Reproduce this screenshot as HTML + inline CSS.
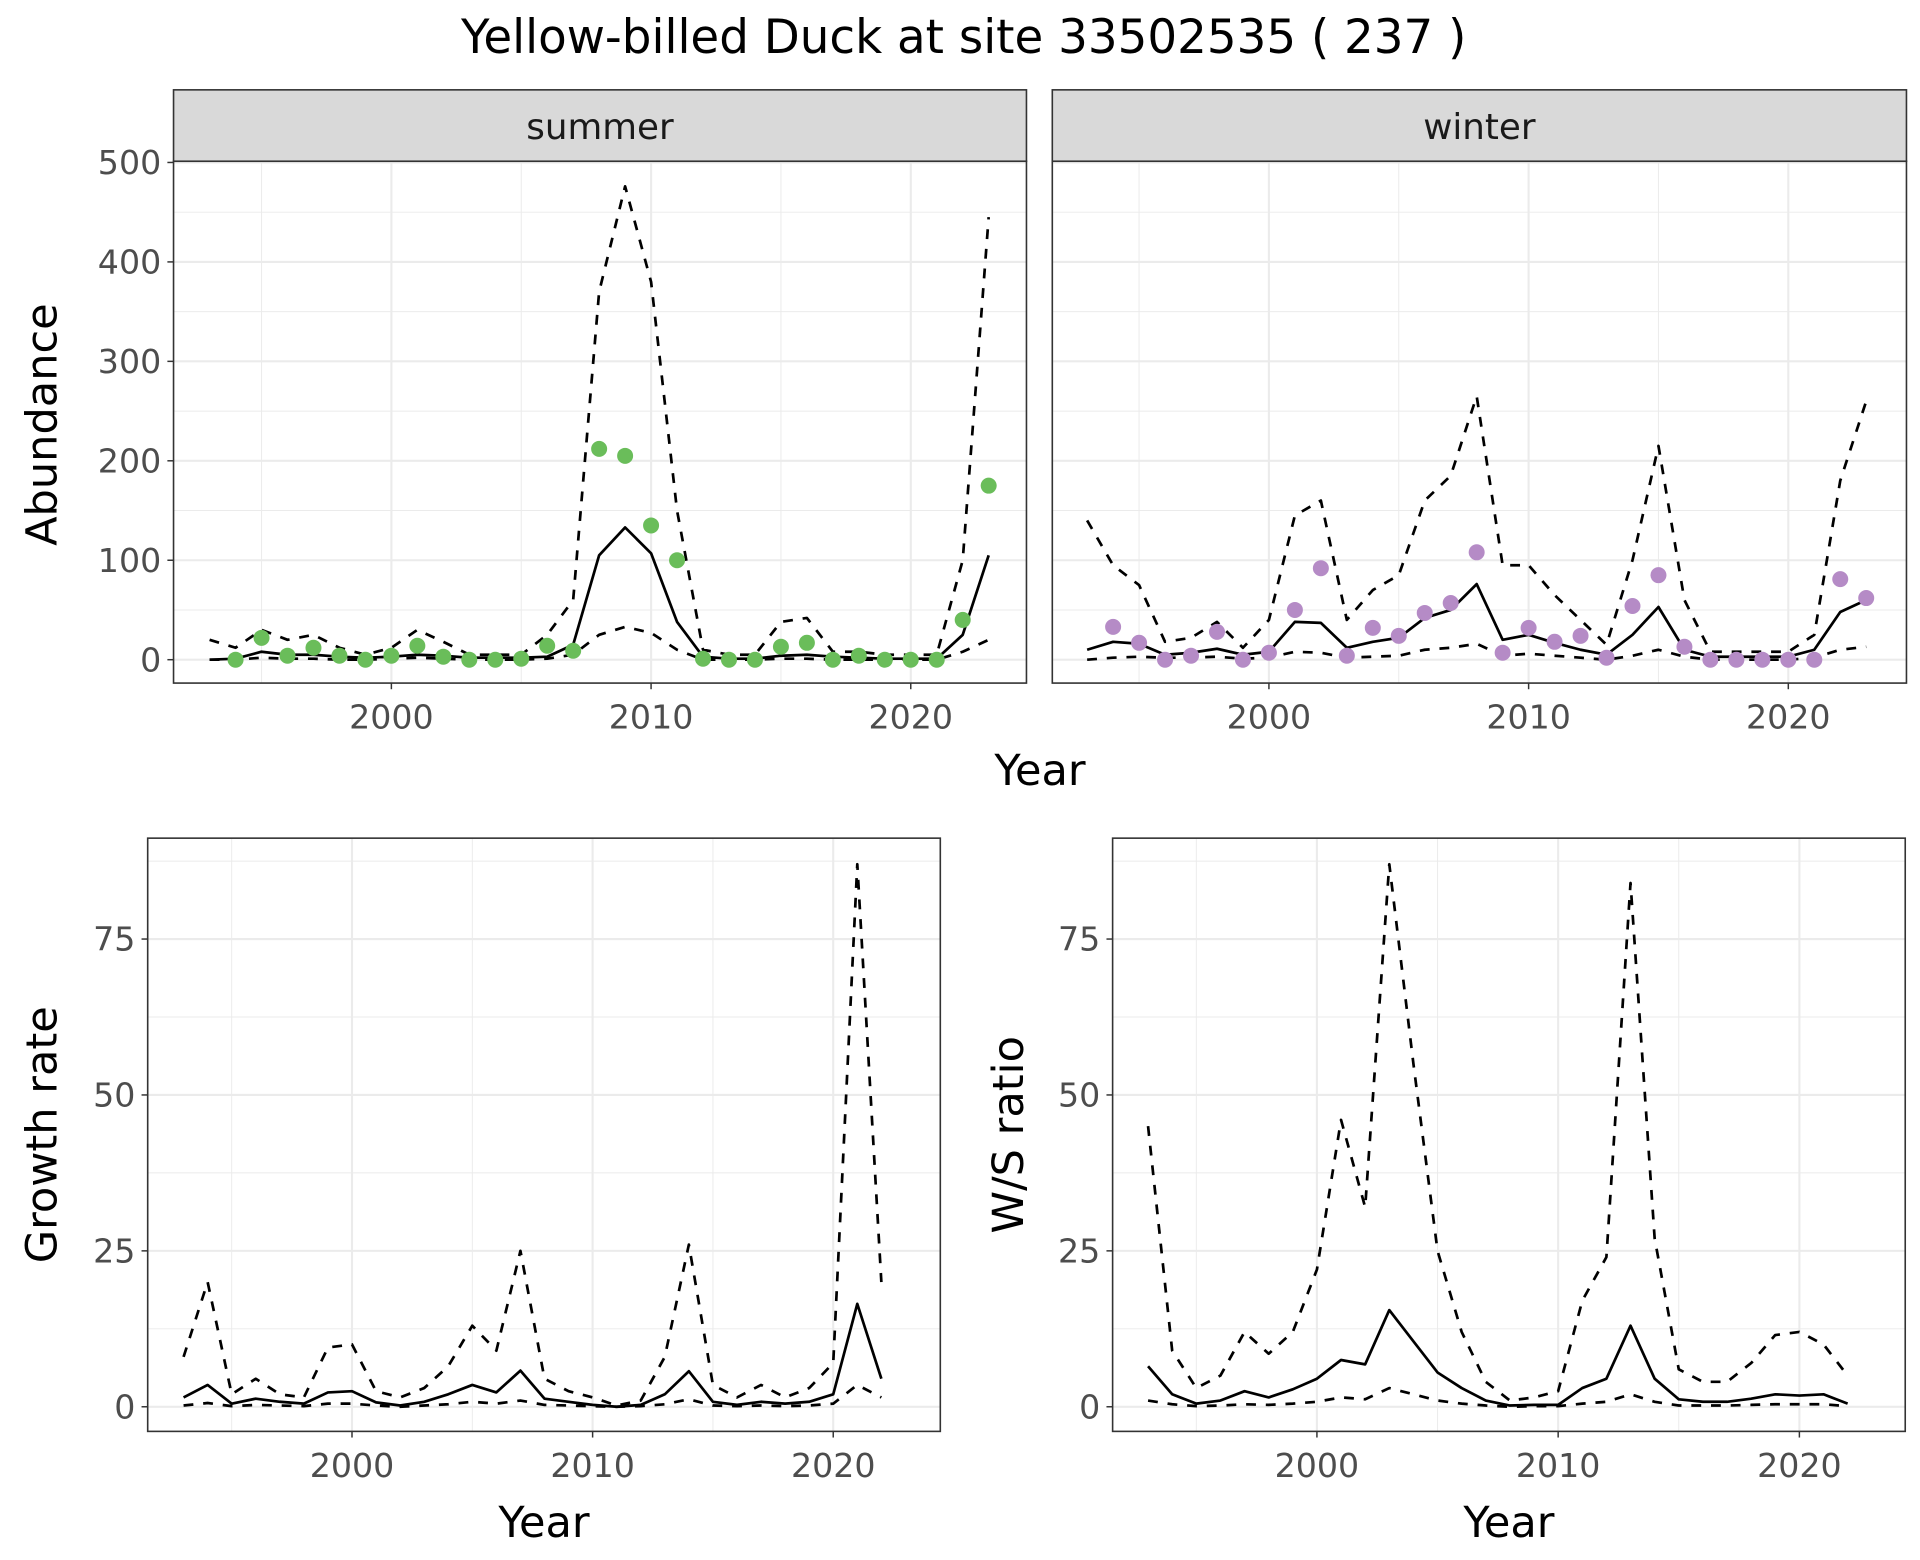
<!DOCTYPE html>
<html><head><meta charset="utf-8"><style>
html,body{margin:0;padding:0;background:#fff}
svg{display:block;font-family:"DejaVu Sans","Liberation Sans",sans-serif}
</style></head><body>
<svg id="chart" width="1920" height="1560" viewBox="0 0 1560 1267.5" xmlns="http://www.w3.org/2000/svg">
<rect width="1560" height="1267.5" fill="#fff"/>
<text x="783" y="43" font-size="38" text-anchor="middle" fill="#000">Yellow-billed Duck at site 33502535 ( 237 )</text>
<g id="root"></g>
</svg>
<script>
const yearsAb = [1993,1994,1995,1996,1997,1998,1999,2000,2001,2002,2003,2004,2005,2006,2007,2008,2009,2010,2011,2012,2013,2014,2015,2016,2017,2018,2019,2020,2021,2022,2023];
const summerMean = [0,1,8,5,5,3,2,3,5,4,2,2,2,3,15,105,133,107,38,3,1,1,4,5,3,2,1,1,1,25,105];
const summerUpper = [20,12,30,20,25,12,5,12,30,18,5,5,5,25,60,370,476,380,150,10,5,5,38,42,8,8,5,5,5,100,445];
const summerLower = [0,0,2,1,1,0,0,1,2,1,0,0,0,1,5,25,33,27,10,0,0,0,1,1,0,0,0,0,0,8,20];
const yearsPts = [1994,1995,1996,1997,1998,1999,2000,2001,2002,2003,2004,2005,2006,2007,2008,2009,2010,2011,2012,2013,2014,2015,2016,2017,2018,2019,2020,2021,2022,2023];
const summerCounts = [0,22,4,12,4,0,4,14,3,0,0,1,14,9,212,205,135,100,1,0,0,13,17,0,4,0,0,0,40,175];
const winterMean = [10,18,16,5,7,11,5,8,38,37,12,18,22,42,50,76,20,25,17,10,5,25,53,10,3,3,3,3,10,48,60];
const winterUpper = [140,95,75,18,22,38,12,40,145,160,40,70,85,160,185,265,95,95,65,40,15,100,215,60,8,8,8,8,25,180,260];
const winterLower = [0,2,3,2,2,3,1,2,8,7,2,3,4,10,12,16,4,6,4,2,0,4,10,3,0,0,0,0,2,10,13];
const winterCounts = [33,17,0,4,28,0,7,50,92,4,32,24,47,57,108,7,32,18,24,2,54,85,13,0,0,0,0,0,81,62];
const yearsGr = [1993,1994,1995,1996,1997,1998,1999,2000,2001,2002,2003,2004,2005,2006,2007,2008,2009,2010,2011,2012,2013,2014,2015,2016,2017,2018,2019,2020,2021,2022];
const growthMean = [1.5,3.5,0.5,1.3,0.8,0.5,2.3,2.5,0.7,0.2,0.8,2,3.5,2.3,5.8,1.3,0.8,0.3,0,0.3,2,5.7,0.8,0.3,0.8,0.5,0.8,2,16.5,4.5];
const growthUpper = [8,20,2,4.5,2,1.5,9.5,10,2.5,1.5,3,6.5,13,9,25,4.5,2.5,1.5,0.2,1,8,26,3.5,1.5,3.5,1.5,3,7,87,20];
const growthLower = [0.2,0.6,0.1,0.3,0.2,0.1,0.5,0.5,0.2,0,0.2,0.4,0.8,0.5,1,0.3,0.2,0.1,0,0.1,0.4,1.2,0.2,0.1,0.2,0.1,0.2,0.5,3.5,1.5];
const wsMean = [6.5,2,0.5,1,2.5,1.5,2.8,4.5,7.5,6.8,15.5,10.5,5.5,3,1,0.2,0.3,0.3,3,4.5,13,4.5,1.2,0.8,0.8,1.3,2,1.8,2,0.5];
const wsUpper = [45,9,3,5,12,8.5,12,22,46,32,87,55,25,12,4,1,1.5,2.5,17,24,84,27,6,4,4,7,11.5,12,10,5];
const wsLower = [1,0.4,0.1,0.2,0.4,0.3,0.5,0.8,1.5,1.2,3,2,1,0.5,0.2,0,0.1,0.1,0.5,0.8,2,0.8,0.2,0.2,0.2,0.3,0.4,0.4,0.4,0.1];
const abTicks = [0,100,200,300,400,500];
const abTickLabels = ["0","100","200","300","400","500"];
const lowTicks = [0,25,50,75];
const lowTickLabels = ["0","25","50","75"];
const xTicks = [2000,2010,2020];
const xTickLabels = ["2000","2010","2020"];

const NS="http://www.w3.org/2000/svg";
const root=document.getElementById('root');
function mk(tag,attrs,parent){const e=document.createElementNS(NS,tag);for(const k in attrs)e.setAttribute(k,attrs[k]);(parent||root).appendChild(e);return e;}
function panel(name,x0,x1,y0,y1,xs,ys,yMajor,yMinor,showY,yLabels){
  const g=mk('g',{});
  
  
  mk('rect',{x:x0,y:y0,width:x1-x0,height:y1-y0,fill:'#fff'},g);
  yMinor.forEach(v=>mk('line',{x1:x0,x2:x1,y1:ys(v),y2:ys(v),stroke:'#ebebeb','stroke-width':0.8},g));
  [1995,2005,2015].forEach(v=>mk('line',{x1:xs(v),x2:xs(v),y1:y0,y2:y1,stroke:'#ebebeb','stroke-width':0.8},g));
  yMajor.forEach(v=>mk('line',{x1:x0,x2:x1,y1:ys(v),y2:ys(v),stroke:'#ebebeb','stroke-width':1.7},g));
  xTicks.forEach(v=>mk('line',{x1:xs(v),x2:xs(v),y1:y0,y2:y1,stroke:'#ebebeb','stroke-width':1.7},g));
  xTicks.forEach((v,i)=>{
    mk('line',{x1:xs(v),x2:xs(v),y1:y1,y2:y1+5,stroke:'#333','stroke-width':1.2},g);
    const t=mk('text',{x:xs(v),y:y1+37,'font-size':27,'text-anchor':'middle',fill:'#4d4d4d'},g);
    t.textContent=xTickLabels[i];
    
    
  });
  if(showY) yMajor.forEach((v,i)=>{
    mk('line',{x1:x0-5,x2:x0,y1:ys(v),y2:ys(v),stroke:'#333','stroke-width':1.2},g);
    const t=mk('text',{x:x0-10,y:ys(v)+9.5,'font-size':27,'text-anchor':'end',fill:'#4d4d4d'},g);
    t.textContent=yLabels[i];
    
    
  });
  return g;
}
function line(g,xsArr,vals,xs,ys,dash,name){
  const p=mk('polyline',{points:xsArr.map((x,i)=>xs(x)+','+ys(vals[i])).join(' '),fill:'none',stroke:'#000','stroke-width':2.2,'stroke-dasharray':dash||'none','stroke-linejoin':'round'},g);
  
  
}
function border(g,x0,x1,y0,y1){mk('rect',{x:x0,y:y0,width:x1-x0,height:y1-y0,fill:'none',stroke:'#333','stroke-width':1.3},g);}

const abY=v=>536-v*0.808;
const sumX=v=>318+(v-2000)*21.1;
const winX=v=>1031+(v-2000)*21.1;
const abMinor=[50,150,250,350,450];
[[ 'summer-panel',141,834,sumX,summerMean,summerUpper,summerLower,summerCounts,'#6abd5a','summer',true],
 ['winter-panel',855,1549,winX,winterMean,winterUpper,winterLower,winterCounts,'#b58bc6','winter',false]].forEach(c=>{
  const [name,x0,x1,xs,m,u,l,pts,col,lab,showY]=c;
  const g=panel(name,x0,x1,131,555,xs,abY,abTicks,abMinor,showY,abTickLabels);
  line(g,yearsAb,u,xs,abY,'8,8','upper-bound-line');
  line(g,yearsAb,l,xs,abY,'8,8','lower-bound-line');
  line(g,yearsAb,m,xs,abY,null,'mean-line');
  yearsPts.forEach((y,i)=>{const c=mk('circle',{cx:xs(y),cy:abY(pts[i]),r:6.5,fill:col},g);
    
    });
  border(g,x0,x1,131,555);
  const s=mk('rect',{x:x0,y:73,width:x1-x0,height:58,fill:'#d9d9d9',stroke:'#333','stroke-width':1.3},g);
  
  
  const t=mk('text',{x:(x0+x1)/2,y:113,'font-size':29,'text-anchor':'middle',fill:'#1a1a1a'},g);
  t.textContent=lab;
  
  
});
const lowY=v=>1143-v*5.067;
const grX=v=>286+(v-2000)*19.55;
const wsX=v=>1070+(v-2000)*19.6;
const lowMinor=[12.5,37.5,62.5,87.5];
[['growth-panel',120,764,grX,growthMean,growthUpper,growthLower],
 ['ws-ratio-panel',904,1548,wsX,wsMean,wsUpper,wsLower]].forEach(c=>{
  const [name,x0,x1,xs,m,u,l]=c;
  const g=panel(name,x0,x1,681,1163,xs,lowY,lowTicks,lowMinor,true,lowTickLabels);
  line(g,yearsGr,u,xs,lowY,'8,8','upper-bound-line');
  line(g,yearsGr,l,xs,lowY,'8,8','lower-bound-line');
  line(g,yearsGr,m,xs,lowY,null,'mean-line');
  border(g,x0,x1,681,1163);
});
function label(txt,x,y,rot,name){const t=mk('text',{x:x,y:y,'font-size':35,'text-anchor':'middle',fill:'#000',transform:rot?`rotate(-90 ${x} ${y})`:''});
  t.textContent=txt;
  
  }
label('Year',845,638,false,'x-axis-title-top');
label('Abundance',46,345,true,'y-axis-title-abundance');
label('Year',442,1249,false,'x-axis-title-growth');
label('Growth rate',46,922,true,'y-axis-title-growth');
label('Year',1226,1249,false,'x-axis-title-ws');
label('W/S ratio',831,922,true,'y-axis-title-ws');
</script>
</body></html>
